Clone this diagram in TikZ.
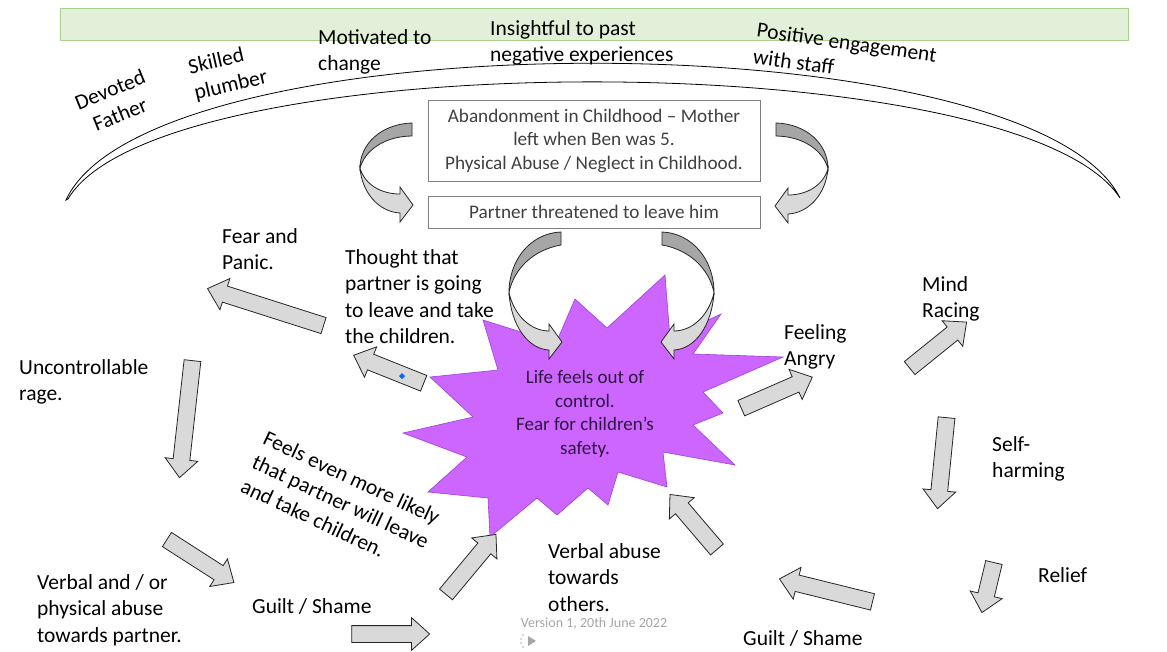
\documentclass[tikz,border=0pt]{standalone}
\usepackage{fontspec}
\setmainfont{Carlito}
\usetikzlibrary{shapes.arrows,calc}

\definecolor{bandfill}{HTML}{E2F0D9}
\definecolor{bandline}{HTML}{A9D18E}
\definecolor{boxline}{HTML}{7F7F7F}
\definecolor{boxtext}{HTML}{404040}
\definecolor{arrowfill}{HTML}{D9D9D9}
\definecolor{curldark}{HTML}{A6A6A6}
\definecolor{starfill}{HTML}{CC66FF}
\definecolor{starline}{HTML}{A040D8}
\definecolor{startext}{HTML}{2E1640}
\definecolor{versiongray}{HTML}{A6A6A6}

\tikzset{
  lbl/.style={inner sep=0pt, align=left, font=\fontsize{21.5}{26.5}\selectfont},
  infobox/.style={draw=boxline, line width=0.9pt, fill=white, text=boxtext, inner sep=0pt,
    align=center, minimum width=332pt, font=\fontsize{19.2}{23.5}\selectfont},
  barrow/.style={shape=single arrow, draw=black!85, line width=0.8pt, fill=arrowfill,
    inner xsep=0pt, inner ysep=8pt, single arrow head extend=8pt, single arrow tip angle=84},
  pics/curlarrow/.style={code={
    \filldraw[fill=curldark, draw=black!85, line width=0.8pt] (0,0) .. controls (-30,{0.01*#1}) and (-52,{0.25*#1}) .. (-52,{0.55*#1})
      .. controls (-47,{0.33*#1}) and (-27,{0.16*#1}) .. (0,13) -- cycle;
    \filldraw[fill=arrowfill, draw=black!85, line width=0.8pt] (-52,{0.55*#1}) .. controls (-50,{0.85*#1}) and (-33,{#1+7}) .. (-12,{#1+8})
      -- (-12,{#1+17}) -- (1,#1) -- (-12,{#1-18}) -- (-12,{#1-11}) .. controls (-30,{#1-11}) and (-47,{0.76*#1}) .. (-52,{0.55*#1}) -- cycle;
  }}
}

\newcommand{\blockarrow}[3]{\path let \p1=#2, \p2=#3, \n1={atan2(\y2-\y1,\x2-\x1)}, \n2={veclen(\x2-\x1,\y2-\y1)} in
  node[barrow, minimum height=\n2, rotate=\n1] (#1) at ($#2!0.5!#3$) {};}

\begin{document}
\begin{tikzpicture}[x=1pt,y=-1pt]
		\path[fill=white,use as bounding box] (0,0) rectangle (1167,651);

		\filldraw[fill=bandfill,draw=bandline,line width=0.9pt] (60,8) rectangle (1128,40);

		% strengths arc
		\filldraw[fill=white,draw=black,line width=0.8pt] (66,200) .. controls (150,18) and (1030,18) .. (1120,198)
			.. controls (1020,43) and (160,43) .. (68,199) -- cycle;

		\node[lbl,align=center,rotate=22] (devoted) at (115,102) {Devoted\\Father};
		\node[lbl,rotate=13] (skilled) at (228,73) {Skilled\\plumber};
		\node[lbl,anchor=north west] (motivated) at (318,29) {Motivated to\\change};
		\node[lbl,anchor=north west] (insight) at (490,20) {Insightful to past\\negative experiences};
		\node[lbl,anchor=north west,rotate=-8] (engage) at (758,22) {Positive engagement\\with staff};

		\node[infobox,minimum height=81pt] (pastbox) at (594,140.5) {Abandonment in Childhood -- Mother\\left when Ben was 5.\\Physical Abuse / Neglect in Childhood.};
		\node[infobox,minimum height=32pt] (threatbox) at (594,212) {Partner threatened to leave him};

		\pic at (412,123) {curlarrow=82};
		\pic[xscale=-1] at (776,123) {curlarrow=83};

		\filldraw[fill=starfill,draw=starline,line width=0.6pt] (665,275) -- (670,338) -- (721,314) -- (693,354) -- (783,357) -- (703,392)
			-- (723,413) -- (693,425) -- (735,465) -- (663,452) -- (667,487) -- (618,472) -- (608,505) -- (588,488) -- (557,515)
			-- (537,498) -- (490,537) -- (488,498) -- (428,492) -- (467,457) -- (403,433) -- (473,417) -- (430,377) -- (498,370)
			-- (483,320) -- (556,343) -- (575,299) -- (607,328) -- cycle;
		\node[text=startext,align=center,font=\fontsize{19}{23.5}\selectfont] (lifenode) at (585,414) {Life feels out of\\control.\\Fear for children’s\\safety.};

		\pic at (561,232) {curlarrow=110};
		\pic[xscale=-1] at (662,232) {curlarrow=110};

		\node[lbl,anchor=north west] (fear) at (222,228) {Fear and\\Panic.};
		\node[lbl,anchor=north west] (thought) at (345,249) {Thought that\\partner is going\\to leave and take\\the children.};
		\node[lbl,anchor=north west] (rage) at (19,359) {Uncontrollable\\rage.};
		\node[lbl,anchor=north west,rotate=-25] (likely) at (268,430) {Feels even more likely\\that partner will leave\\and take children.};
		\node[lbl,anchor=north west] (verbal) at (37,574) {Verbal and / or\\physical abuse\\towards partner.};
		\node[lbl,anchor=base west] (guiltleft) at (252,613) {Guilt / Shame};
		\node[lbl,anchor=north west] (others) at (548,543) {Verbal abuse\\towards\\others.};
		\node[lbl,anchor=north west] (angry) at (784,324) {Feeling\\Angry};
		\node[lbl,anchor=north west] (mind) at (922,276) {Mind\\Racing};
		\node[lbl,anchor=north west] (harm) at (992,436) {Self-\\harming};
		\node[lbl,anchor=base west] (relief) at (1038,582) {Relief};
		\node[lbl,anchor=base west] (guiltright) at (743,645) {Guilt / Shame};

		\blockarrow{thoughtarrow}{(428,385)}{(358,357)}
		\blockarrow{feararrow}{(328,327)}{(212,290)}
		\blockarrow{ragearrow}{(193,356)}{(180,473)}
		\blockarrow{hitarrow}{(163,537)}{(230,580)}
		\blockarrow{guiltarrow}{(347,634)}{(425,634)}
		\blockarrow{likelyarrow}{(443,598)}{(493,538)}
		\blockarrow{angryarrow}{(737,410)}{(808,379)}
		\blockarrow{mindarrow}{(906,371)}{(963,325)}
		\blockarrow{harmarrow}{(947,413)}{(938,504)}
		\blockarrow{reliefarrow}{(995,558)}{(983,608)}
		\blockarrow{shamearrow}{(877,603)}{(784,580)}
		\blockarrow{othersarrow}{(720,553)}{(673,498)}

		\fill[blue!60!cyan] (402,373) -- (405,376) -- (402,379) -- (399,376) -- cycle;

		\node[text=versiongray,font=\fontsize{14}{16}\selectfont] (version) at (594,624) {Version 1, 20th June 2022};
		\fill[versiongray] (528,636) -- (536,641) -- (528,646) -- cycle;
		\foreach \p in {(523,635),(521,639),(521,643),(523,647)} {\fill[versiongray!60] \p circle (1.1);}
\end{tikzpicture}
\end{document}
